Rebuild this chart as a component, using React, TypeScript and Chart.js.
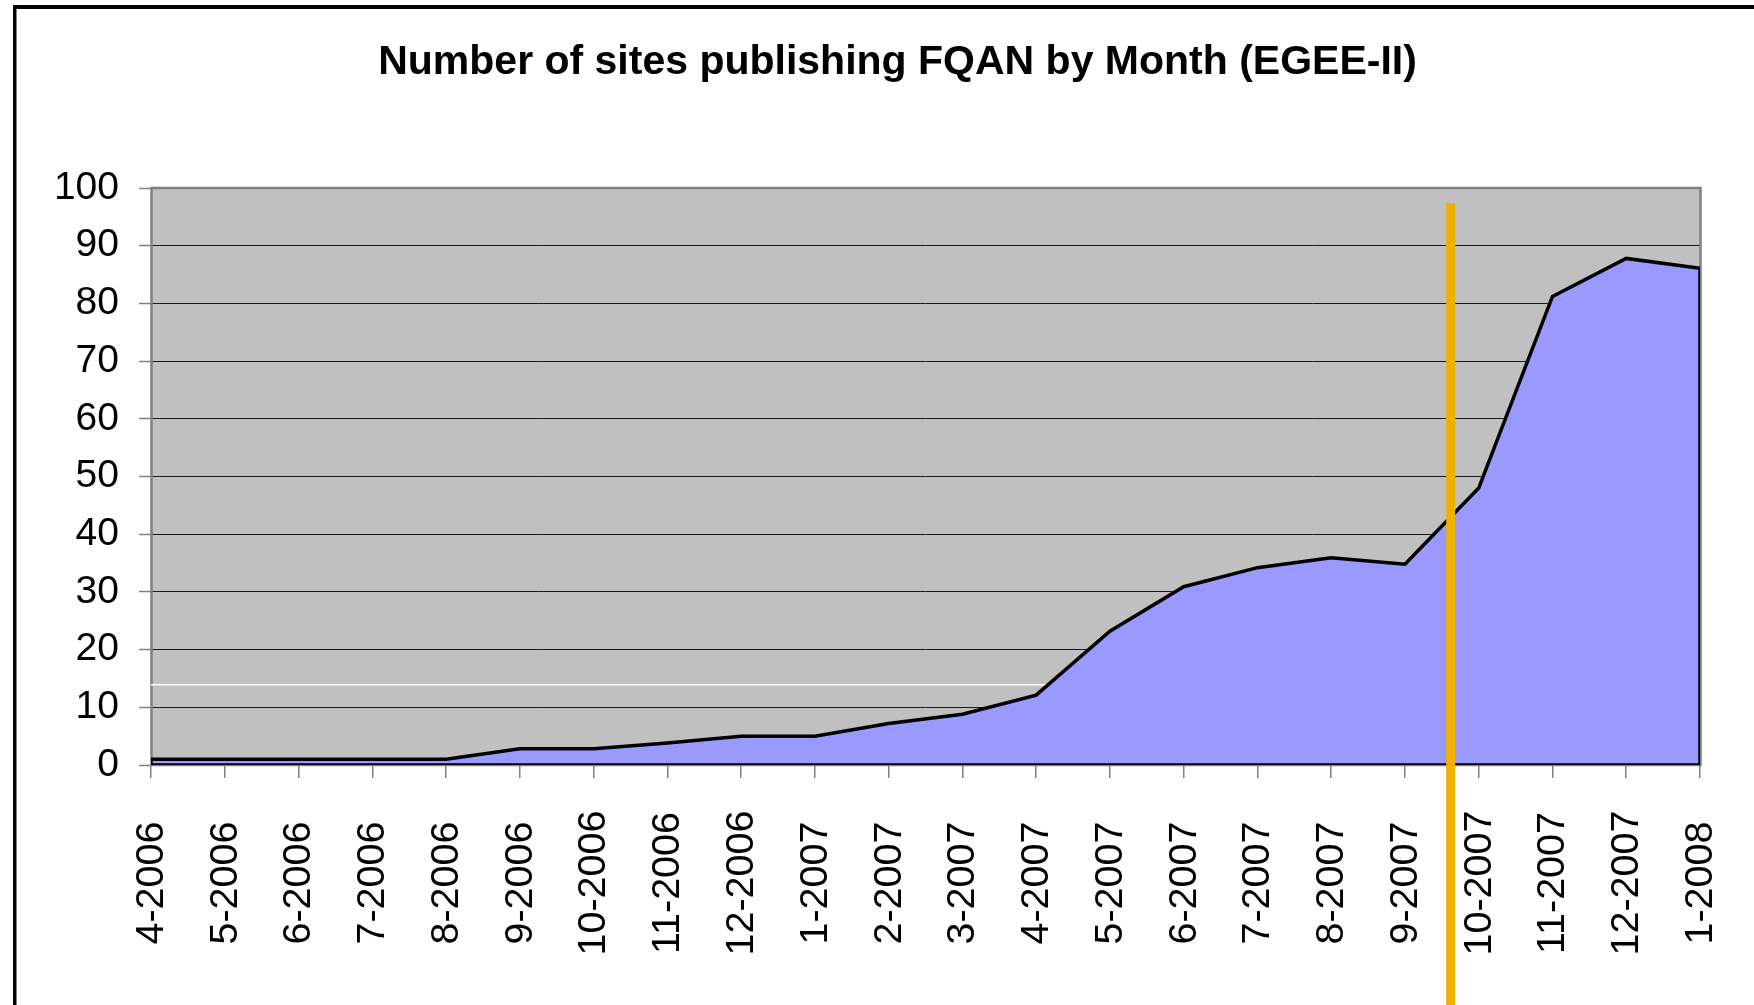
import { useEffect, useRef } from "react";
import { Chart, registerables } from "chart.js";

Chart.register(...registerables);

const TITLE = "Number of sites publishing FQAN by Month (EGEE-II)";

const MONTHS = [
  "4-2006", "5-2006", "6-2006", "7-2006", "8-2006", "9-2006", "10-2006",
  "11-2006", "12-2006", "1-2007", "2-2007", "3-2007", "4-2007", "5-2007",
  "6-2007", "7-2007", "8-2007", "9-2007", "10-2007", "11-2007", "12-2007",
  "1-2008",
];

const SITES = [
  1, 1, 1, 1, 1, 2.8, 2.8, 3.8, 5, 5, 7.2, 8.8, 12.1, 23.2, 30.9, 34.2, 35.9,
  34.8, 48, 81.2, 87.8, 86.1,
];

const Y_MIN = 0;
const Y_MAX = 100;
const Y_STEP = 10;

// faint white reference line behind the area
const GUIDE_VALUE = 13.9;

// orange vertical marker (category index position, value span)
const MARKER_X = 17.62;
const MARKER_TOP = 97.4;
const MARKER_BOTTOM = -45;

const FONT = "'Liberation Sans', Arial, sans-serif";

const framePlugin = {
  id: "frame",
  beforeDraw(chart: any) {
    const { ctx, chartArea } = chart;
    ctx.save();
    ctx.fillStyle = "#ffffff";
    ctx.fillRect(0, 0, chart.width, chart.height);
    // outer frame (top + left visible)
    ctx.fillStyle = "#000000";
    ctx.fillRect(13, 5, chart.width, 4);
    ctx.fillRect(13, 5, 3.5, chart.height);
    // title
    ctx.font = `bold 41px ${FONT}`;
    ctx.textAlign = "center";
    ctx.textBaseline = "alphabetic";
    ctx.fillText(TITLE, 897.5, 74);
    // plot background
    ctx.fillStyle = "#C0C0C0";
    ctx.fillRect(
      chartArea.left,
      chartArea.top,
      chartArea.right - chartArea.left,
      chartArea.bottom - chartArea.top
    );
    ctx.restore();
  },
  beforeDatasetsDraw(chart: any) {
    const { ctx, chartArea } = chart;
    ctx.save();
    ctx.strokeStyle = "#808080";
    ctx.lineWidth = 2.5;
    ctx.strokeRect(
      chartArea.left + 0.5,
      chartArea.top,
      chartArea.right - chartArea.left,
      chartArea.bottom - chartArea.top
    );
    ctx.restore();
  },
};

const xLabelsPlugin = {
  id: "xLabels",
  afterDraw(chart: any) {
    const { ctx, chartArea } = chart;
    const x = chart.scales.x;
    const cy = chartArea.bottom + 118;
    ctx.save();
    ctx.font = `39.5px ${FONT}`;
    ctx.fillStyle = "#000000";
    ctx.textAlign = "center";
    ctx.textBaseline = "middle";
    MONTHS.forEach((m, i) => {
      const px = x.getPixelForValue(i);
      ctx.save();
      ctx.translate(px + 1, cy);
      ctx.rotate(-Math.PI / 2);
      ctx.fillText(m, 0, 0);
      ctx.restore();
    });
    ctx.restore();
  },
};

export default function App() {
  const canvasRef = useRef<HTMLCanvasElement | null>(null);

  useEffect(() => {
    const canvas = canvasRef.current;
    if (!canvas) return;
    const last = MONTHS.length - 1;

    const chart = new Chart(canvas, {
      type: "line",
      data: {
        datasets: [
          {
            label: "marker",
            data: [
              { x: MARKER_X, y: MARKER_TOP },
              { x: MARKER_X, y: MARKER_BOTTOM },
            ],
            borderColor: "#F0B000",
            borderWidth: 9,
            borderCapStyle: "butt",
            pointRadius: 0,
            fill: false,
            clip: false as any,
            order: 0,
          },
          {
            label: "outline",
            data: [
              { x: last, y: SITES[last] },
              { x: last, y: 0 },
              { x: 0, y: 0 },
              { x: 0, y: SITES[0] },
            ],
            borderColor: "#000000",
            borderWidth: 3.5,
            pointRadius: 0,
            fill: false,
            order: 1,
          },
          {
            label: "Sites",
            data: SITES.map((v, i) => ({ x: i, y: v })),
            borderColor: "#000000",
            borderWidth: 3.5,
            backgroundColor: "#9999FF",
            fill: "origin",
            pointRadius: 0,
            tension: 0,
            order: 2,
          },
          {
            label: "guide",
            data: [
              { x: 0, y: GUIDE_VALUE },
              { x: last, y: GUIDE_VALUE },
            ],
            borderColor: "#FFFFFF",
            borderWidth: 1.5,
            pointRadius: 0,
            fill: false,
            order: 3,
          },
        ],
      },
      options: {
        animation: false,
        responsive: false,
        events: [],
        layout: { padding: { left: 40, right: 54, top: 188, bottom: 0 } },
        plugins: {
          legend: { display: false },
          tooltip: { enabled: false },
          title: { display: false },
        },
        scales: {
          x: {
            type: "linear",
            min: 0,
            max: last,
            ticks: { display: false, stepSize: 1 },
            grid: {
              drawOnChartArea: false,
              drawTicks: true,
              tickLength: 13,
              color: "#808080",
              lineWidth: 1.5,
            },
            border: { display: false },
            afterFit: (s: any) => {
              s.height = 240;
            },
          },
          y: {
            min: Y_MIN,
            max: Y_MAX,
            ticks: {
              stepSize: Y_STEP,
              padding: 20,
              color: "#000000",
              font: { family: FONT, size: 39 },
            },
            grid: {
              color: "#1a1a1a",
              lineWidth: 1,
              tickLength: 12,
              tickColor: "#808080",
              tickWidth: 1.5,
            } as any,
            border: { display: false },
            afterFit: (s: any) => {
              s.width = 111;
            },
          },
        },
      },
      plugins: [framePlugin, xLabelsPlugin],
    } as any);

    return () => chart.destroy();
  }, []);

  return (
    <div style={{ position: "fixed", left: 0, top: 0, width: 1754, height: 1005 }}>
      <canvas ref={canvasRef} width={1754} height={1005} />
    </div>
  );
}
